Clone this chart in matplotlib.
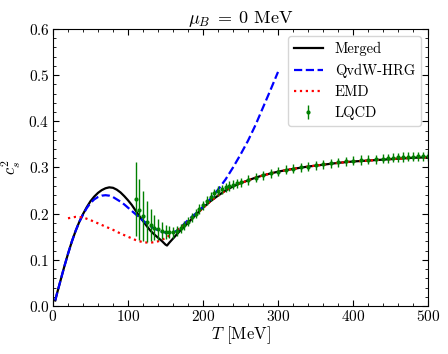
import matplotlib
matplotlib.use("Agg")
import matplotlib.pyplot as plt
from matplotlib.ticker import MultipleLocator

plt.rcParams['font.family'] = 'serif'
plt.rcParams['font.serif'] = ['cmr10']
plt.rcParams['mathtext.fontset'] = 'cm'
plt.rcParams['axes.formatter.use_mathtext'] = True

# Merged
T_merged = [3, 5, 10, 15, 20, 25, 30, 35, 40, 45, 50, 55, 60, 65, 70, 75, 80, 85, 90, 95,
            100, 105, 110, 115, 120, 125, 130, 135, 140, 145, 150, 152, 155, 160, 165, 170,
            175, 180, 190, 200, 210, 220, 230, 240, 250, 260, 270, 280, 290, 300, 320, 340,
            360, 380, 400, 420, 440, 460, 480, 500]
cs2_merged = [0.012, 0.025, 0.055, 0.085, 0.113, 0.139, 0.162, 0.182, 0.199, 0.214, 0.227,
              0.237, 0.245, 0.251, 0.255, 0.257, 0.256, 0.252, 0.246, 0.238,
              0.229, 0.219, 0.207, 0.195, 0.184, 0.173, 0.163, 0.155, 0.148, 0.141, 0.133,
              0.131, 0.137, 0.146, 0.155, 0.164, 0.172, 0.180, 0.197, 0.213, 0.227, 0.239,
              0.250, 0.259, 0.266, 0.272, 0.278, 0.283, 0.287, 0.291, 0.297, 0.302,
              0.306, 0.310, 0.313, 0.315, 0.317, 0.319, 0.321, 0.322]

# QvdW-HRG
T_hrg = [3, 5, 10, 15, 20, 25, 30, 35, 40, 45, 50, 55, 60, 65, 70, 75, 80, 85, 90, 95,
         100, 105, 110, 115, 120, 125, 130, 135, 140, 145, 150, 155, 160, 165, 170, 175,
         180, 185, 190, 200, 210, 220, 230, 240, 250, 260, 270, 280, 290, 300]
cs2_hrg = [0.012, 0.025, 0.055, 0.085, 0.113, 0.139, 0.162, 0.182, 0.198, 0.212, 0.223,
           0.231, 0.236, 0.239, 0.240, 0.239, 0.236, 0.231, 0.226, 0.220,
           0.213, 0.206, 0.199, 0.192, 0.185, 0.179, 0.173, 0.168, 0.164, 0.161, 0.159,
           0.158, 0.159, 0.163, 0.170, 0.178, 0.186, 0.193, 0.200, 0.215, 0.232, 0.252,
           0.274, 0.300, 0.328, 0.358, 0.392, 0.430, 0.468, 0.507]

# EMD
T_emd = [20, 30, 40, 50, 60, 70, 80, 90, 100, 110, 120, 130, 140, 150, 160, 170, 180, 190,
         200, 210, 220, 230, 240, 250, 260, 270, 280, 290, 300, 320, 340, 360, 380, 400,
         420, 440, 460, 480, 500]
cs2_emd = [0.190, 0.193, 0.192, 0.186, 0.179, 0.172, 0.165, 0.157, 0.150, 0.143, 0.138,
           0.137, 0.140, 0.147, 0.158, 0.170, 0.182, 0.197,
           0.212, 0.227, 0.239, 0.250, 0.259, 0.266, 0.272, 0.278, 0.283, 0.287, 0.291,
           0.297, 0.302, 0.306, 0.310, 0.313, 0.315, 0.317, 0.319, 0.321, 0.322]

# LQCD
T_lqcd = [110, 115, 120, 125, 130, 135, 140, 145, 150, 155, 160, 165, 170, 175, 180, 185,
          190, 195, 200, 205, 210, 215, 220, 225, 230, 235, 240, 245, 250, 260, 270, 280,
          290, 300, 310, 320, 330, 340, 350, 360, 370, 380, 390, 400, 410, 420, 430, 440,
          446.7, 453.3, 460, 466.7, 473.3, 480, 486.7, 493.3, 500]
cs2_lqcd = [0.232, 0.209, 0.195, 0.183, 0.176, 0.170, 0.166, 0.163, 0.160, 0.160, 0.160,
            0.163, 0.168, 0.175, 0.183, 0.192, 0.200, 0.210, 0.218, 0.228, 0.237, 0.244,
            0.249, 0.253, 0.257, 0.260, 0.263, 0.266, 0.268, 0.273, 0.278, 0.283, 0.287,
            0.291, 0.295, 0.297, 0.300, 0.302, 0.305, 0.307, 0.309, 0.311, 0.313, 0.315,
            0.316, 0.317, 0.318, 0.319, 0.320, 0.321, 0.322, 0.3225, 0.323, 0.3235, 0.324,
            0.3245, 0.325]
err_lqcd = [0.080, 0.065, 0.055, 0.045, 0.035, 0.028, 0.022, 0.018, 0.015, 0.013, 0.012,
            0.011, 0.010, 0.010, 0.010, 0.010, 0.010, 0.010, 0.010, 0.010, 0.010, 0.010,
            0.010, 0.010, 0.010, 0.010, 0.010, 0.010, 0.010, 0.010, 0.010, 0.010, 0.010,
            0.010, 0.010, 0.010, 0.010, 0.010, 0.010, 0.010, 0.010, 0.010, 0.010, 0.010,
            0.010, 0.010, 0.010, 0.010, 0.010, 0.010, 0.010, 0.010, 0.010, 0.010, 0.010,
            0.010, 0.010]

fig = plt.figure(figsize=(4.48, 3.54), dpi=100)
ax = fig.add_axes([0.1183, 0.1356, 0.8371, 0.7825])

ax.plot(T_merged, cs2_merged, color='black', lw=1.6, label='Merged')
ax.plot(T_hrg, cs2_hrg, color='blue', lw=1.6, ls='--', label='QvdW-HRG')
ax.plot(T_emd, cs2_emd, color='red', lw=1.6, ls=':', label='EMD')
ax.errorbar(T_lqcd, cs2_lqcd, yerr=err_lqcd, fmt='o', ms=2, color='green',
            elinewidth=1.0, capsize=0, label='LQCD')

ax.set_xlim(0, 500)
ax.set_ylim(0, 0.6)
ax.xaxis.set_major_locator(MultipleLocator(100))
ax.xaxis.set_minor_locator(MultipleLocator(20))
ax.yaxis.set_major_locator(MultipleLocator(0.1))
ax.yaxis.set_minor_locator(MultipleLocator(0.02))
ax.tick_params(which='both', direction='in', top=True, right=True, labelsize=11, pad=2.5)
ax.tick_params(which='major', length=4)
ax.tick_params(which='minor', length=2)

ax.set_xlabel(r'$T$ [MeV]', fontsize=12, labelpad=0)
ax.set_ylabel(r'$c_s^2$', fontsize=12)
ax.yaxis.set_label_coords(-0.08, 0.5)
ax.set_title(r'$\mu_B\;=\;0$ MeV', fontsize=13, pad=3)
ax.legend(loc='upper right', fontsize=10.5)

fig.savefig('out.png', dpi=100)
